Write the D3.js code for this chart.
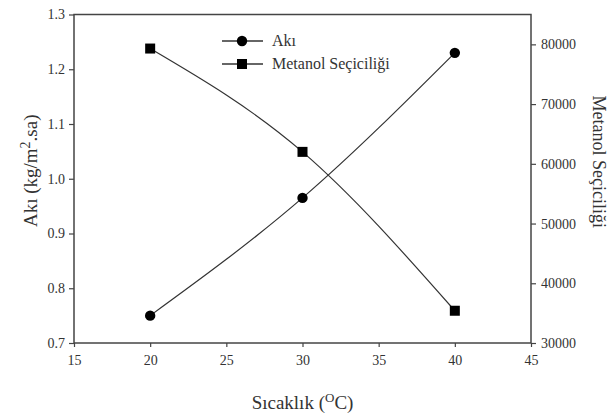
<!DOCTYPE html>
<html>
<head>
<meta charset="utf-8">
<script src="https://cdn.jsdelivr.net/npm/d3@7"></script>
<style>
  body { margin: 0; background: #fff; }
  svg, svg text { font-family: "Times New Roman", "Liberation Serif", "DejaVu Serif", serif !important; }
  svg text { fill: #333; }
</style>
</head>
<body>
<svg id="chart"></svg>
<script>
// data
const temps = [20, 30, 40];
const akiValues = [0.75, 0.965, 1.23];
const metanolValues = [79300, 62000, 35400];
const xTicks = [15, 20, 25, 30, 35, 40, 45];
const leftTicks = [0.7, 0.8, 0.9, 1.0, 1.1, 1.2, 1.3];
const rightTicks = [30000, 40000, 50000, 60000, 70000, 80000];

const serif = '"Times New Roman", "Liberation Serif", serif';
const width = 614, height = 417;
const margin = { top: 14.5, right: 83, bottom: 74, left: 74 };
const w = width - margin.left - margin.right;
const h = height - margin.top - margin.bottom;

const svg = d3.select("#chart").attr("width", width).attr("height", height)
  .attr("font-family", serif);
const g = svg.append("g").attr("transform", `translate(${margin.left},${margin.top})`);

const x = d3.scaleLinear().domain([15, 45]).range([0, w]);
const yLeft = d3.scaleLinear().domain([0.7, 1.3]).range([h, 0]);
const yRight = d3.scaleLinear().domain([30000, 85000]).range([h, 0]);

// axes
const xAxis = g.append("g").attr("transform", `translate(0,${h})`)
  .call(d3.axisBottom(x).tickValues(xTicks).tickSize(4).tickPadding(8).tickFormat(d3.format("d")));
const lAxis = g.append("g")
  .call(d3.axisLeft(yLeft).tickValues(leftTicks).tickSize(5).tickPadding(4).tickFormat(d3.format(".1f")));
const rAxis = g.append("g").attr("transform", `translate(${w},0)`)
  .call(d3.axisRight(yRight).tickValues(rightTicks).tickSize(5).tickPadding(5).tickFormat(d3.format("d")));

[xAxis, lAxis, rAxis].forEach(a => {
  a.attr("font-family", serif);
  a.select(".domain").remove();
  a.selectAll(".tick line").attr("stroke", "#444").attr("stroke-width", 1.2);
  a.selectAll(".tick text").attr("font-size", 14).attr("fill", "#333");
});

// frame
g.append("rect").attr("width", w).attr("height", h)
  .attr("fill", "none").attr("stroke", "#444").attr("stroke-width", 1.5);

const akiData = temps.map((t, i) => ({ t, v: akiValues[i] }));
const metData = temps.map((t, i) => ({ t, v: metanolValues[i] }));

const lineAki = d3.line().x(d => x(d.t)).y(d => yLeft(d.v)).curve(d3.curveNatural);
const lineMet = d3.line().x(d => x(d.t)).y(d => yRight(d.v)).curve(d3.curveNatural);

g.append("path").datum(akiData).attr("d", lineAki)
  .attr("fill", "none").attr("stroke", "#333").attr("stroke-width", 1.2);
g.append("path").datum(metData).attr("d", lineMet)
  .attr("fill", "none").attr("stroke", "#333").attr("stroke-width", 1.2);

g.selectAll(".aki-pt").data(akiData).join("circle")
  .attr("class", "aki-pt")
  .attr("cx", d => x(d.t)).attr("cy", d => yLeft(d.v)).attr("r", 5.2).attr("fill", "#000");
g.selectAll(".met-pt").data(metData).join("rect")
  .attr("class", "met-pt")
  .attr("x", d => x(d.t) - 5).attr("y", d => yRight(d.v) - 5)
  .attr("width", 10).attr("height", 10).attr("fill", "#000");

// legend
const legend = svg.append("g").attr("transform", "translate(222,41)");
const items = [{ label: "Akı", shape: "circle" }, { label: "Metanol Seçiciliği", shape: "square" }];
items.forEach((it, i) => {
  const row = legend.append("g").attr("transform", `translate(0,${i * 23})`);
  row.append("line").attr("x1", 0).attr("x2", 41).attr("stroke", "#333").attr("stroke-width", 1.5);
  if (it.shape === "circle") {
    row.append("circle").attr("cx", 20).attr("r", 5.2).attr("fill", "#000");
  } else {
    row.append("rect").attr("x", 15).attr("y", -5).attr("width", 10).attr("height", 10).attr("fill", "#000");
  }
  row.append("text").attr("x", 50).attr("y", 5).attr("font-size", 16).text(it.label);
});

// axis titles
const xt = svg.append("text").attr("x", margin.left + w / 2).attr("y", 409)
  .attr("text-anchor", "middle").attr("font-size", 19);
xt.append("tspan").text("Sıcaklık (");
xt.append("tspan").attr("dy", -7).attr("font-size", 13).text("O");
xt.append("tspan").attr("dy", 7).text("C)");

const lt = svg.append("text")
  .attr("transform", `translate(37,${margin.top + h / 2 - 8}) rotate(-90)`)
  .attr("text-anchor", "middle").attr("font-size", 19);
lt.append("tspan").text("Akı (kg/m");
lt.append("tspan").attr("dy", -7).attr("font-size", 14).text("2");
lt.append("tspan").attr("dy", 7).text(".sa)");

svg.append("text")
  .attr("transform", `translate(593,${margin.top + h / 2 - 17}) rotate(90)`)
  .attr("text-anchor", "middle").attr("font-size", 18).text("Metanol Seçiciliği");
</script>
</body>
</html>
